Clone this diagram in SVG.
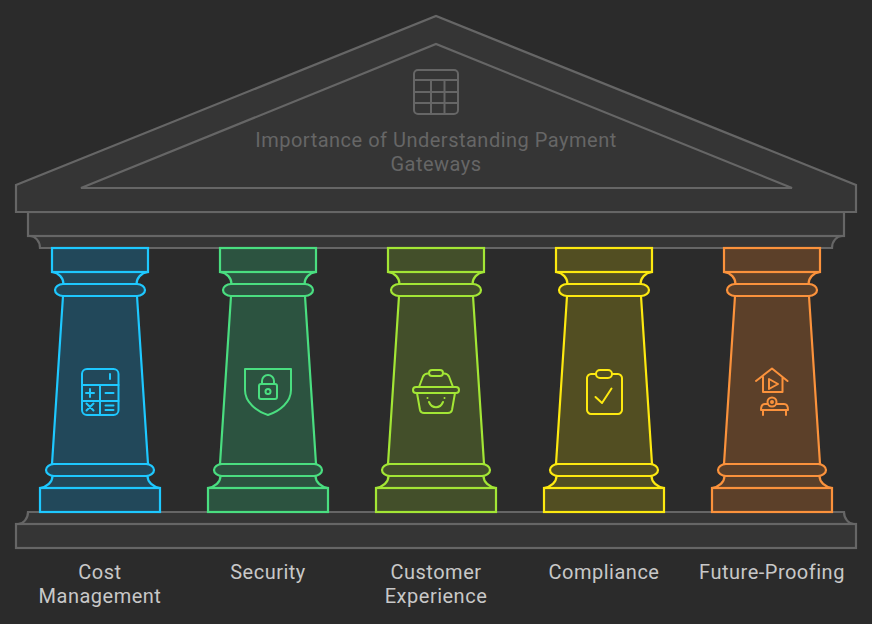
<svg xmlns="http://www.w3.org/2000/svg" width="872" height="624" viewBox="0 0 872 624">
<style>
.s{fill:#353535;stroke:#666;stroke-width:2.200;stroke-linejoin:miter}
.i{fill:none;stroke:var(--c);stroke-width:2;stroke-linecap:round;stroke-linejoin:round}
.t{font-family:Roboto,"Liberation Sans",sans-serif;font-size:20px;letter-spacing:.5px;text-anchor:middle}
.l{fill:#c8c8c8}
.b{--c:#1ec8ff;--f:#22485a}
.g{--c:#4ade80;--f:#2c5340}
.y{--c:#a3e635;--f:#434f2a}
.o{--c:#fde910;--f:#524e22}
.r{--c:#fb923c;--f:#5c4029}
.p{stroke:var(--c);fill:var(--f);stroke-width:2.200}
</style>
<defs>
<g id="pillar">
<path class="p" d="M-37 296L-48 464H48L37 296Z"/>
<path class="p" d="M-48 272C-41 273-36.500 278-36.500 284H36.500C36.500 278 41 273 48 272Z"/>
<rect class="p" x="-48" y="248" width="96" height="24"/>
<rect class="p" x="-45" y="284" width="90" height="12" rx="8" ry="6"/>
<path class="p" d="M-47.500 476C-47.500 482-53 487-60 488H60C53 487 47.500 482 47.500 476Z"/>
<rect class="p" x="-54" y="464" width="108" height="12" rx="8" ry="6"/>
<rect class="p" x="-60" y="488" width="120" height="24"/>
</g>
</defs>
<rect width="872" height="624" fill="#2b2b2b"/>
<g id="roof">
<path class="s" d="M30 236C35 236 40 241 40 248H832C832 241 837 236 842 236Z"/>
<rect class="s" x="28" y="212" width="816" height="24"/>
<path class="s" d="M16 185L436 16L856 185V212H16Z"/>
<path class="s" d="M81 188L436 44L792 188Z"/>
<g fill="none" stroke="#666" stroke-width="2" stroke-linejoin="round">
<rect x="414" y="70" width="44" height="44" rx="4"/>
<path d="M414 80H458M414 92H458M414 103H458M431 80V114M444.500 80V114"/>
</g>
<text class="t" x="436" y="147" fill="#666">Importance of Understanding Payment</text>
<text class="t" x="436" y="171" fill="#666">Gateways</text>
</g>
<g id="base">
<path class="s" d="M28 512C28 519 23 524 18 524H854C849 524 844 519 844 512Z"/>
<rect class="s" x="16" y="524" width="840" height="24"/>
</g>
<g id="cost" class="b">
<use href="#pillar" x="100"/>
<g class="i">
<rect x="82" y="369" width="36.500" height="46" rx="5"/>
<path d="M82 385H118.500M82 401H118.500M100 385V415M110 374V379M86 393H94M90 389V397M105.500 393H113.500M86.500 403.500L93.500 410.500M93.500 403.500L86.500 410.500M105.500 405.500H113.500M105.500 410H113.500"/>
</g>
<text class="t l" x="100" y="579">Cost</text>
<text class="t l" x="100" y="603">Management</text>
</g>
<g id="security" class="g">
<use href="#pillar" x="268"/>
<g class="i">
<path d="M245 369H291V390C291 402 280 411 268 415C256 411 245 402 245 390Z"/>
<rect x="259" y="384" width="18" height="15" rx="2"/>
<path d="M262 384V381A6 6 0 0 1 274 381V384"/>
<circle cx="268" cy="391.500" r="2.500"/>
</g>
<text class="t l" x="268" y="579">Security</text>
</g>
<g id="customer" class="y">
<use href="#pillar" x="436"/>
<g class="i">
<rect x="413" y="387" width="46" height="6" rx="3"/>
<path d="M419 387L423 376.500C424 374.500 425.500 373.500 428 373.500M453 387L449 376.500C448 374.500 446.500 373.500 444 373.500"/>
<rect x="429" y="370" width="14" height="6" rx="3"/>
<path d="M417 393L420 410C420.500 412 422 413 424 413H448C450 413 451.500 412 452 410L455 393"/>
<path d="M429 402C432 409 440 409 443 402M427.500 398V398.100M444.500 398V398.100"/>
</g>
<text class="t l" x="436" y="579">Customer</text>
<text class="t l" x="436" y="603">Experience</text>
</g>
<g id="compliance" class="o">
<use href="#pillar" x="604"/>
<g class="i">
<path d="M596 374H591C589 374 587 376 587 378V410C587 412 589 414 591 414H618C620 414 622 412 622 410V378C622 376 620 374 618 374H612"/>
<rect x="596" y="370" width="16" height="8" rx="4"/>
<path d="M595.500 397L602 403L611.500 388.500"/>
</g>
<text class="t l" x="604" y="579">Compliance</text>
</g>
<g id="future" class="r">
<use href="#pillar" x="772"/>
<g class="i">
<path d="M756 381L772 368.500L787.500 381M763 377V392H782.500V377"/>
<path d="M769 379L778 384L769 389Z"/>
<circle cx="772" cy="402" r="4.500"/>
<circle cx="772" cy="402" r="1"/>
<path d="M767.500 404H765C762 404 761 407 761 410H788C788 407 787 404 784 404H776.500M763 410V415M786 410V415"/>
</g>
<text class="t l" x="772" y="579">Future-Proofing</text>
</g>
</svg>
